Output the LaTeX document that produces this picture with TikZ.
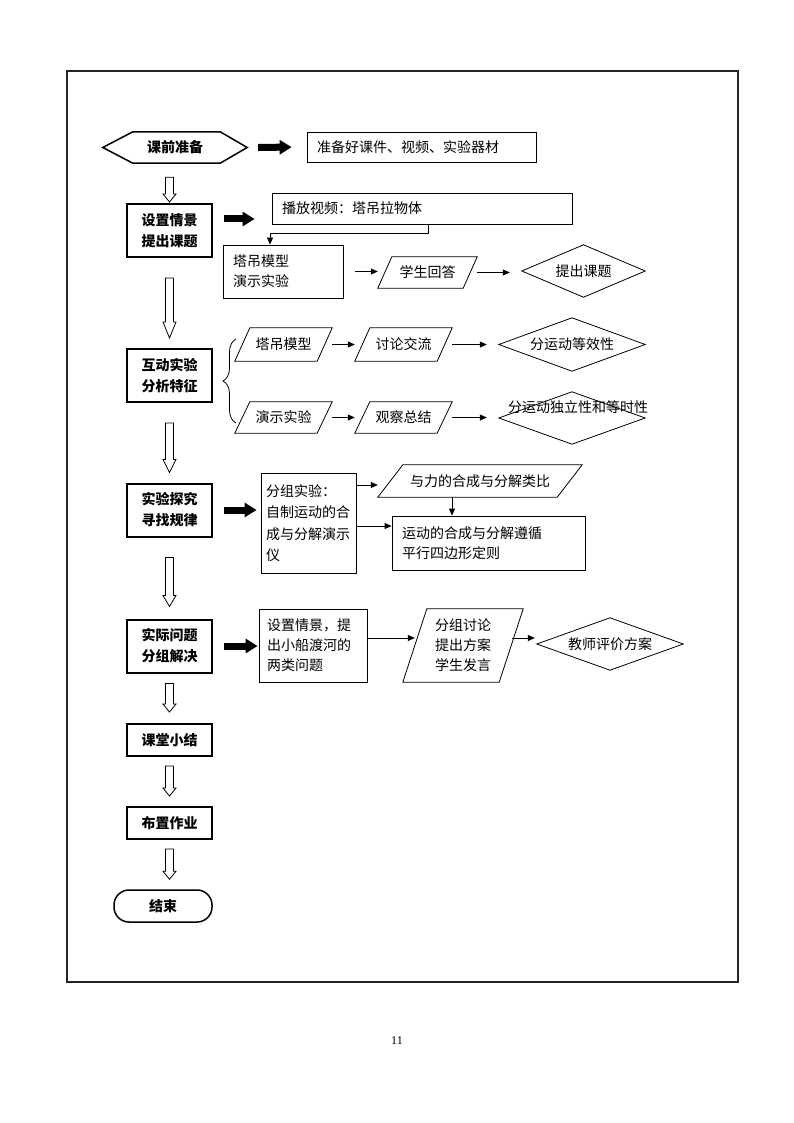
\documentclass[tikz,border=0pt]{standalone}
\usepackage{fontspec}
\setmainfont{Noto Sans CJK SC}
\newfontfamily\pagenumfont{Liberation Serif}
\usetikzlibrary{arrows.meta,calc,decorations.pathreplacing}

\newcommand\paradraw[2]{\draw[thinline] (#1.south west) -- ($(#1.north west)+(#2,0)$) -- (#1.north east) -- ($(#1.south east)+(-#2,0)$) -- cycle;}
\newcommand\diadraw[1]{\draw[thinline] (#1.west) -- (#1.north) -- (#1.east) -- (#1.south) -- cycle;}
\newcommand\hollowdown[5]{%
  \draw[hollow] let \p1=($(#1.south)+(0,#3)$), \p2=($(#2.north)+(0,-#4)$), \p3=(s1.center) in
  (\x3-4pt,\y1) -- (\x3-4pt,\y2+#5pt) -- (\x3-6.5pt,\y2+#5pt) -- (\x3,\y2) --
  (\x3+6.5pt,\y2+#5pt) -- (\x3+4pt,\y2+#5pt) -- (\x3+4pt,\y1) -- cycle;}

\begin{document}
\begin{tikzpicture}[x=1pt,y=-1pt,
  every node/.style={font=\fontsize{14}{20}\selectfont, inner sep=0pt},
  thinline/.style={line width=0.8pt},
  mainbox/.style={draw, line width=2pt, minimum width=85pt, minimum height=53pt, align=center,
    font=\fontsize{14}{21}\selectfont\bfseries},
  plainbox/.style={draw, thinline, align=left},
  arr/.style={thinline, -{Triangle[length=7pt,width=6pt]}},
  blk/.style={line width=7pt, -{Triangle[length=12pt,width=14pt]}},
  hollow/.style={line width=0.8pt, fill=white},
]
\useasboundingbox (0,0) rectangle (794,1123);
\draw[line width=2pt, black!85] (67,71) rectangle (738,982);

% row 1
\node[minimum width=144pt, minimum height=31pt, font=\fontsize{14}{17}\selectfont\bfseries] (hex) at (175,147.5) {课前准备};
\draw[line width=1.5pt] (hex.west) -- ($(hex.north west)+(30,0)$) -- ($(hex.north east)+(-27,0)$) -- (hex.east) -- ($(hex.south east)+(-27,0)$) -- ($(hex.south west)+(30,0)$) -- cycle;
\node[plainbox, minimum width=229pt, minimum height=30pt, text width=209pt] (prep) at (421.5,147) {准备好课件、视频、实验器材};

% row 2
\node[mainbox] (s1) at (169.5,230.5) {设置情景\\提出课题};
\node[plainbox, minimum width=300pt, minimum height=31pt, text width=280pt] (play) at (422,208.5) {播放视频：塔吊拉物体};
\node[plainbox, minimum width=120pt, minimum height=53pt, text width=100pt] (model) at (283,271.5) {塔吊模型\\演示实验};
\node[minimum width=99pt, minimum height=31pt] (ans) at (427.5,272.5) {学生回答};
\paradraw{ans}{14}
\node[minimum width=123pt, minimum height=52pt] (topic) at (583.5,271) {提出课题};
\diadraw{topic}

% row 3
\node[mainbox] (s2) at (169.5,375.5) {互动实验\\分析特征};
\node[minimum width=97pt, minimum height=33pt] (pa1) at (283.5,344.5) {塔吊模型};
\paradraw{pa1}{15}
\node[minimum width=97pt, minimum height=33pt] (pa2) at (403.5,344.5) {讨论交流};
\paradraw{pa2}{15}
\node[minimum width=146pt, minimum height=53pt] (d1) at (572,344.5) {分运动等效性};
\diadraw{d1}
\node[minimum width=97pt, minimum height=31pt] (pb1) at (283.5,417.5) {演示实验};
\paradraw{pb1}{15}
\node[minimum width=97pt, minimum height=31pt] (pb2) at (403.5,417.5) {观察总结};
\paradraw{pb2}{15}
\node[minimum width=146pt, minimum height=52pt] (d2) at (572,418) {};
\diadraw{d2}
\node (d2t) at (578,407) {分运动独立性和等时性};
\draw[thinline, decorate, decoration={brace, amplitude=13pt}] (236,423) -- (236,339);

% row 4
\node[mainbox] (s3) at (169.5,510) {实验探究\\寻找规律};
\node[plainbox, minimum width=95pt, minimum height=100pt, text width=85pt, font=\fontsize{14}{21.5}\selectfont] (exp) at (308.5,523) {分组实验：\\自制运动的合\\成与分解演示\\仪};
\node[minimum width=204pt, minimum height=32pt] (analog) at (480,481) {与力的合成与分解类比};
\paradraw{analog}{25}
\node[plainbox, minimum width=193pt, minimum height=54pt, text width=173pt] (concl) at (488.5,543) {运动的合成与分解遵循\\平行四边形定则};

% row 5
\node[mainbox] (s4) at (169.5,646) {实际问题\\分组解决};
\node[plainbox, minimum width=108pt, minimum height=73pt, text width=92pt] (solve) at (313,645.5) {设置情景，提\\出小船渡河的\\两类问题};
\node[minimum width=120pt, minimum height=73pt, align=center] (disc) at (463,645.5) {分组讨论\\提出方案\\学生发言};
\paradraw{disc}{24}
\node[minimum width=146pt, minimum height=52pt] (eval) at (610,644) {教师评价方案};
\diadraw{eval}

% rest
\node[mainbox, minimum height=32pt] (s5) at (169.5,740) {课堂小结};
\node[mainbox, minimum height=32pt] (s6) at (169.5,823) {布置作业};
\node[draw, line width=1.5pt, rounded corners=15pt, minimum width=98pt, minimum height=32pt, font=\fontsize{14}{17}\selectfont\bfseries] (fin) at (163,906) {结束};

\node[font=\pagenumfont\fontsize{12}{14}\selectfont] (pg) at (397,1041) {11};

% thick arrows
\draw[blk, shorten <=11pt, shorten >=15pt] (hex.east) -- (prep.west);
\coordinate (k1) at ($(s1.east)+(0,-11.5)$);
\draw[blk, shorten <=11pt, shorten >=17pt] (k1) -- (k1 -| play.west);
\draw[blk, shorten <=11pt, shorten >=4pt] (s3.east) -- (s3.east -| exp.west);
\draw[blk, shorten <=11pt, shorten >=1pt] (s4.east) -- (s4.east -| solve.west);

% thin arrows
\draw[arr] ($(play.south)+(6,0)$) |- ($(model.north)+(-13,-11)$) -- ($(model.north)+(-13,0)$);
\draw[arr, shorten <=12pt] (model.east) -- (model.east -| ans.west);
\draw[arr, shorten >=12pt] (ans.east) -- (ans.east -| topic.west);
\draw[arr] (pa1.east) -- (pa2.west);
\draw[arr, shorten >=12pt] (pa2.east) -- (pa2.east -| d1.west);
\draw[arr] (pb1.east) -- (pb2.west);
\draw[arr, shorten >=12pt] (pb2.east) -- (pb2.east -| d2.west);
\coordinate (k2) at ($(analog.west)+(0,4)$);
\draw[arr] (k2 -| exp.east) -- (k2);
\coordinate (k3) at ($(concl.west)+(0,-17)$);
\draw[arr] (k3 -| exp.east) -- (k3);
\coordinate (k4) at ($(analog.south)+(-28,0)$);
\draw[arr] (k4) -- (k4 |- concl.north);
\coordinate (k5) at ($(solve.east)+(0,-7.5)$);
\coordinate (k6) at (k5 -| disc.west);
\coordinate (k7) at (k5 -| disc.east);
\coordinate (k8) at (k5 -| eval.west);
\draw[arr] (k5) -- ($(k6)+(12,0)$);
\draw[arr] ($(k7)+(-11,0)$) -- ($(k8)+(-2,0)$);

% hollow arrows
\hollowdown{hex}{s1}{14}{1}{8}
\hollowdown{s1}{s2}{20}{10}{16}
\hollowdown{s2}{s3}{20}{10}{13}
\hollowdown{s3}{s4}{20}{12}{11}
\hollowdown{s4}{s5}{10}{11}{8}
\hollowdown{s5}{s6}{9}{10}{8}
\hollowdown{s6}{fin}{9}{10}{8}
\end{tikzpicture}
\end{document}
